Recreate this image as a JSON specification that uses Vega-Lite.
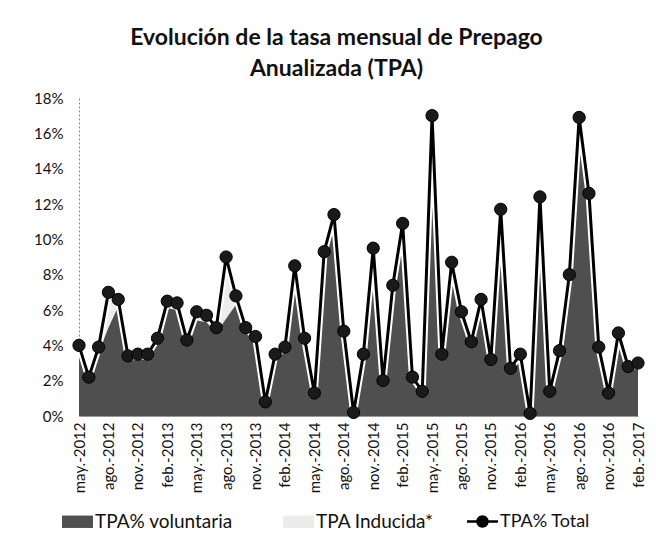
{
  "$schema": "https://vega.github.io/schema/vega-lite/v6.json",
  "autosize": {"type": "none"},
  "width": 559,
  "height": 318,
  "padding": {"left": 79, "top": 98, "right": 18, "bottom": 138},
  "background": "white",
  "config": {"view": {"stroke": null}, "font": "Lato", "axisY": {"labelOverlap": false, "tickCount": 10}},
  "title": {
    "text": ["Evolución de la tasa mensual de Prepago", "Anualizada (TPA)"],
    "font": "Lato",
    "fontSize": 23,
    "fontWeight": "bold",
    "color": "#111",
    "anchor": "middle",
    "frame": "group",
    "dx": -22,
    "offset": 10,
    "lineHeight": 31
  },
  "data": {
    "values": [
      {"mes": "may.-2012", "vol": 3.7, "total": 4.0},
      {"mes": "jun.-2012", "vol": 1.9, "total": 2.2},
      {"mes": "jul.-2012", "vol": 3.6, "total": 3.9},
      {"mes": "ago.-2012", "vol": 5.0, "total": 7.0},
      {"mes": "sep.-2012", "vol": 6.2, "total": 6.6},
      {"mes": "oct.-2012", "vol": 3.1, "total": 3.4},
      {"mes": "nov.-2012", "vol": 3.2, "total": 3.5},
      {"mes": "dic.-2012", "vol": 3.2, "total": 3.5},
      {"mes": "ene.-2013", "vol": 4.1, "total": 4.4},
      {"mes": "feb.-2013", "vol": 6.1, "total": 6.5},
      {"mes": "mar.-2013", "vol": 6.0, "total": 6.4},
      {"mes": "abr.-2013", "vol": 4.0, "total": 4.3},
      {"mes": "may.-2013", "vol": 5.4, "total": 5.9},
      {"mes": "jun.-2013", "vol": 5.3, "total": 5.7},
      {"mes": "jul.-2013", "vol": 4.7, "total": 5.0},
      {"mes": "ago.-2013", "vol": 5.5, "total": 9.0},
      {"mes": "sep.-2013", "vol": 6.3, "total": 6.8},
      {"mes": "oct.-2013", "vol": 4.7, "total": 5.0},
      {"mes": "nov.-2013", "vol": 4.2, "total": 4.5},
      {"mes": "dic.-2013", "vol": 0.6, "total": 0.8},
      {"mes": "ene.-2014", "vol": 3.2, "total": 3.5},
      {"mes": "feb.-2014", "vol": 3.6, "total": 3.9},
      {"mes": "mar.-2014", "vol": 8.1, "total": 8.5},
      {"mes": "abr.-2014", "vol": 4.1, "total": 4.4},
      {"mes": "may.-2014", "vol": 1.1, "total": 1.3},
      {"mes": "jun.-2014", "vol": 8.9, "total": 9.3},
      {"mes": "jul.-2014", "vol": 11.0, "total": 11.4},
      {"mes": "ago.-2014", "vol": 4.5, "total": 4.8},
      {"mes": "sep.-2014", "vol": 0.1, "total": 0.2},
      {"mes": "oct.-2014", "vol": 3.2, "total": 3.5},
      {"mes": "nov.-2014", "vol": 9.1, "total": 9.5},
      {"mes": "dic.-2014", "vol": 1.7, "total": 2.0},
      {"mes": "ene.-2015", "vol": 7.0, "total": 7.4},
      {"mes": "feb.-2015", "vol": 10.5, "total": 10.9},
      {"mes": "mar.-2015", "vol": 1.9, "total": 2.2},
      {"mes": "abr.-2015", "vol": 1.2, "total": 1.4},
      {"mes": "may.-2015", "vol": 16.6, "total": 17.0},
      {"mes": "jun.-2015", "vol": 3.2, "total": 3.5},
      {"mes": "jul.-2015", "vol": 8.3, "total": 8.7},
      {"mes": "ago.-2015", "vol": 5.6, "total": 5.9},
      {"mes": "sep.-2015", "vol": 3.9, "total": 4.2},
      {"mes": "oct.-2015", "vol": 6.2, "total": 6.6},
      {"mes": "nov.-2015", "vol": 2.9, "total": 3.2},
      {"mes": "dic.-2015", "vol": 11.3, "total": 11.7},
      {"mes": "ene.-2016", "vol": 2.4, "total": 2.7},
      {"mes": "feb.-2016", "vol": 3.2, "total": 3.5},
      {"mes": "mar.-2016", "vol": 0.1, "total": 0.15},
      {"mes": "abr.-2016", "vol": 12.0, "total": 12.4},
      {"mes": "may.-2016", "vol": 1.2, "total": 1.4},
      {"mes": "jun.-2016", "vol": 3.4, "total": 3.7},
      {"mes": "jul.-2016", "vol": 7.6, "total": 8.0},
      {"mes": "ago.-2016", "vol": 16.5, "total": 16.9},
      {"mes": "sep.-2016", "vol": 12.2, "total": 12.6},
      {"mes": "oct.-2016", "vol": 3.6, "total": 3.9},
      {"mes": "nov.-2016", "vol": 1.1, "total": 1.3},
      {"mes": "dic.-2016", "vol": 4.4, "total": 4.7},
      {"mes": "ene.-2017", "vol": 2.5, "total": 2.8},
      {"mes": "feb.-2017", "vol": 2.7, "total": 3.0}
    ]
  },
  "encoding": {
    "x": {
      "field": "mes",
      "type": "ordinal",
      "sort": null,
      "scale": {"type": "point", "padding": 0},
      "axis": {
        "title": null,
        "values": ["may.-2012", "ago.-2012", "nov.-2012", "feb.-2013", "may.-2013", "ago.-2013", "nov.-2013", "feb.-2014", "may.-2014", "ago.-2014", "nov.-2014", "feb.-2015", "may.-2015", "ago.-2015", "nov.-2015", "feb.-2016", "may.-2016", "ago.-2016", "nov.-2016", "feb.-2017"],
        "labelAngle": -90,
        "labelAlign": "right",
        "labelBaseline": "middle",
        "labelFont": "Lato",
        "labelFontSize": 15,
        "labelColor": "#111",
        "labelPadding": 6,
        "labelOverlap": false,
        "ticks": false,
        "tickSize": 0,
        "domain": true,
        "domainColor": "#999",
        "domainWidth": 1,
        "grid": false
      }
    },
    "y": {
      "field": "total",
      "type": "quantitative",
      "scale": {"domain": [0, 18]},
      "axis": {
        "title": null,
        "values": [0, 2, 4, 6, 8, 10, 12, 14, 16, 18],
        "labelExpr": "datum.value + '%'",
        "labelFont": "Lato",
        "labelFontSize": 15,
        "labelColor": "#111",
        "labelPadding": 16,
        "labelOverlap": false,
        "ticks": false,
        "tickSize": 0,
        "grid": false,
        "domain": true,
        "domainColor": "#888",
        "domainDash": [2, 2],
        "domainWidth": 1
      }
    }
  },
  "layer": [
    {
      "mark": {"type": "area", "opacity": 1},
      "encoding": {
        "y2": {"field": "vol"},
        "fill": {
          "datum": "TPA Inducida*",
          "type": "nominal",
          "scale": {
            "domain": ["TPA% voluntaria", "TPA Inducida*"],
            "range": ["#4f4f4f", "#ececec"]
          },
          "legend": {
            "title": null,
            "orient": "none",
            "legendX": -17,
            "legendY": 408,
            "direction": "horizontal",
            "labelFont": "Lato",
            "labelFontSize": 19,
            "labelColor": "#111",
            "labelOffset": 2,
            "columnPadding": 50,
            "symbolSize": 961,
            "symbolType": "M-1,-0.4H1V0.4H-1Z",
            "symbolStrokeWidth": 0
          }
        }
      }
    },
    {
      "mark": {"type": "area", "opacity": 1},
      "encoding": {
        "y": {
          "field": "vol",
          "type": "quantitative",
          "axis": {
            "title": null,
            "values": [0, 2, 4, 6, 8, 10, 12, 14, 16, 18],
            "labelExpr": "datum.value + '%'",
            "labelFont": "Lato",
            "labelFontSize": 15,
            "labelColor": "#111",
            "labelPadding": 16,
            "labelOverlap": false,
            "ticks": false,
            "tickSize": 0,
            "grid": false,
            "domain": true,
            "domainColor": "#888",
            "domainDash": [2, 2],
            "domainWidth": 1
          }
        },
        "fill": {"datum": "TPA% voluntaria", "type": "nominal"}
      }
    },
    {
      "mark": {"type": "line", "color": "white", "strokeWidth": 7, "strokeJoin": "round"},
      "encoding": {}
    },
    {
      "mark": {"type": "line", "strokeWidth": 3, "strokeJoin": "round"},
      "encoding": {
        "stroke": {
          "datum": "TPA% Total",
          "type": "nominal",
          "scale": {"domain": ["TPA% Total"], "range": ["#000000"]},
          "legend": {
            "title": null,
            "orient": "none",
            "legendX": 388,
            "legendY": 408,
            "direction": "horizontal",
            "labelFont": "Lato",
            "labelFontSize": 18,
            "labelColor": "#111",
            "labelOffset": 2,
            "symbolSize": 961,
            "symbolType": "M-1,-0.08H1V0.08H-1Z M0.4,0A0.4,0.4,0,1,1,-0.4,0A0.4,0.4,0,1,1,0.4,0Z",
            "symbolFillColor": "#000000",
            "symbolStrokeWidth": 0
          }
        }
      }
    },
    {
      "mark": {"type": "point", "filled": true, "size": 150, "opacity": 1, "fill": "#1a1a1a", "stroke": "#000", "strokeWidth": 1},
      "encoding": {}
    }
  ]
}
